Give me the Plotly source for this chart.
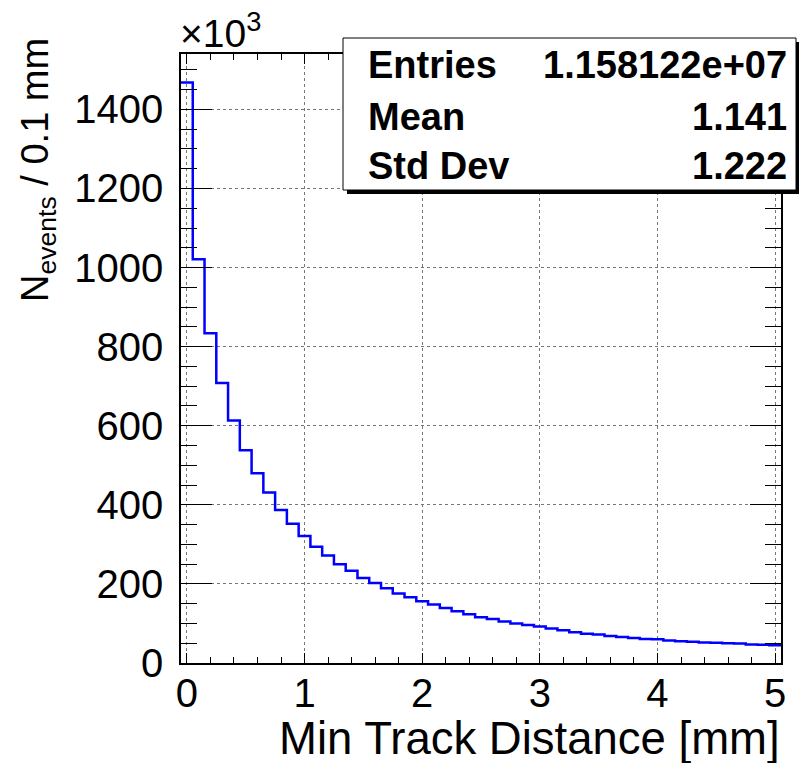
import numpy as np
import plotly.graph_objects as go

# ---- data (counts in units of 10^3 per 0.1 mm bin) ----
bin_low = -0.05
bin_width = 0.1
counts_k = [1468, 1021, 834, 708, 613, 538, 480, 431, 387, 352,
            321, 294, 272, 250, 233, 215, 202, 189, 176, 166,
            156, 148, 139, 131, 123, 116, 111, 105, 100, 96,
            92, 87, 83, 78, 74, 72, 68, 66, 63, 61,
            60, 57, 55, 54, 52, 51, 50, 49, 47, 46, 45]
x_ticks = [0, 1, 2, 3, 4, 5]
y_ticks = [0, 200, 400, 600, 800, 1000, 1200, 1400]
stats_labels = ["Entries", "Mean", "Std Dev"]
stats_values = ["1.158122e+07", "1.141", "1.222"]

edges = bin_low + bin_width * np.arange(len(counts_k) + 1)
yvals = counts_k + [counts_k[-1]]

W, H = 810, 763
ml, mr, mt, mb = 181, 29, 54, 100
pw, ph = W - ml - mr, H - mt - mb


def px(xp):
    return (xp - ml) / pw


def py(yp):
    return (H - mb - yp) / ph


FONT = "Liberation Sans, Arial, Helvetica, sans-serif"

fig = go.Figure()
fig.add_trace(go.Scatter(x=edges, y=yvals, mode="lines", line_shape="hv",
                         line=dict(color="#0000ff", width=2.5),
                         showlegend=False, hoverinfo="skip"))

fig.update_layout(
    width=W, height=H,
    margin=dict(l=ml, r=mr, t=mt, b=mb, pad=0),
    paper_bgcolor="white", plot_bgcolor="white",
    font=dict(family=FONT, color="black"),
)

fig.update_xaxes(
    range=[edges[0], edges[-1]], tickvals=x_ticks, ticktext=[str(v) for v in x_ticks],
    showline=True, linecolor="black", linewidth=1.5, mirror="allticks",
    ticks="inside", ticklen=10, tickwidth=1.2, tickcolor="black",
    minor=dict(ticks="inside", ticklen=6, dtick=0.2, tick0=0, tickcolor="black", showgrid=False),
    showgrid=True, gridcolor="#777", griddash="dot", gridwidth=1,
    tickfont=dict(size=40, family=FONT), ticklabelstandoff=-6, zeroline=False,
)
fig.update_yaxes(
    range=[0, 1540], tickvals=y_ticks, ticktext=[str(v) for v in y_ticks],
    showline=True, linecolor="black", linewidth=1.5, mirror="allticks",
    ticks="inside", ticklen=31, tickwidth=1.2, tickcolor="black",
    minor=dict(ticks="inside", ticklen=16, dtick=50, tick0=0, tickcolor="black", showgrid=False),
    showgrid=True, gridcolor="#777", griddash="dot", gridwidth=1,
    tickfont=dict(size=40, family=FONT), ticklabelstandoff=8, zeroline=False,
)

# axis titles
fig.add_annotation(text="Min Track Distance [mm]", xref="paper", yref="paper",
                   x=px(782), y=py(738), xanchor="right", yanchor="middle",
                   showarrow=False, font=dict(size=45.5, family=FONT))
fig.add_annotation(text="N<sub>events</sub> / 0.1 mm", xref="paper", yref="paper",
                   x=px(38), y=py(36), xanchor="center", yanchor="top", textangle=-90,
                   showarrow=False, font=dict(size=38, family=FONT))
fig.add_annotation(text="×10<sup>3</sup>", xref="paper", yref="paper",
                   x=px(178), y=py(30), xanchor="left", yanchor="middle",
                   showarrow=False, font=dict(size=39, family=FONT))

# stats box with shadow
fig.add_shape(type="rect", xref="paper", yref="paper",
              x0=px(347), x1=px(799), y0=py(42), y1=py(194),
              fillcolor="black", line=dict(width=0), layer="above")
fig.add_shape(type="rect", xref="paper", yref="paper",
              x0=px(343), x1=px(796), y0=py(38), y1=py(190),
              fillcolor="white", line=dict(color="black", width=1), layer="above")
row_y = [65, 117, 166]
for lab, val, ry in zip(stats_labels, stats_values, row_y):
    fig.add_annotation(text=f"<b>{lab}</b>", xref="paper", yref="paper",
                       x=px(366), y=py(ry), xanchor="left", yanchor="middle",
                       showarrow=False, font=dict(size=38, family=FONT))
    fig.add_annotation(text=f"<b>{val}</b>", xref="paper", yref="paper",
                       x=px(789), y=py(ry), xanchor="right", yanchor="middle",
                       showarrow=False, font=dict(size=38, family=FONT))

fig.write_html("out.html")
